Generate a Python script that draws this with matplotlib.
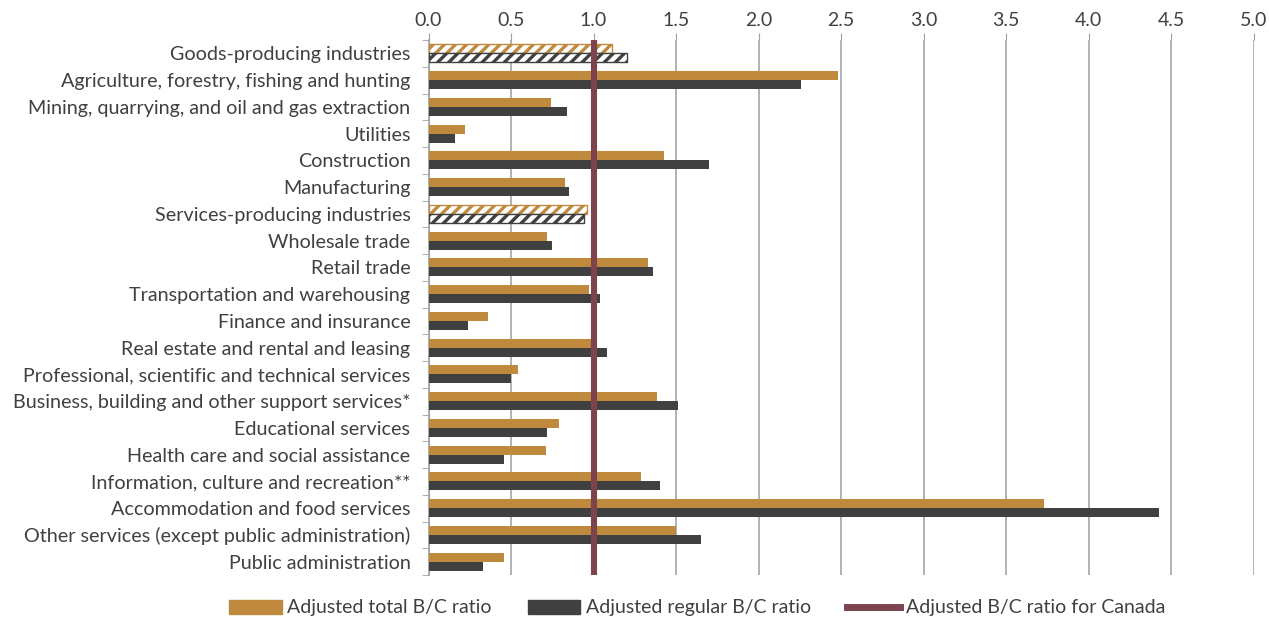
import matplotlib
matplotlib.use("Agg")
import matplotlib.pyplot as plt
import numpy as np
from matplotlib.patches import Patch
from matplotlib.lines import Line2D

categories = [
    "Goods-producing industries",
    "Agriculture, forestry, fishing and hunting",
    "Mining, quarrying, and oil and gas extraction",
    "Utilities",
    "Construction",
    "Manufacturing",
    "Services-producing industries",
    "Wholesale trade",
    "Retail trade",
    "Transportation and warehousing",
    "Finance and insurance",
    "Real estate and rental and leasing",
    "Professional, scientific and technical services",
    "Business, building and other support services*",
    "Educational services",
    "Health care and social assistance",
    "Information, culture and recreation**",
    "Accommodation and food services",
    "Other services (except public administration)",
    "Public administration",
]
total_bc = [1.11, 2.48, 0.74, 0.22, 1.43, 0.83, 0.96, 0.72, 1.33, 0.97, 0.36, 0.99,
            0.54, 1.385, 0.79, 0.71, 1.29, 3.73, 1.50, 0.46]
regular_bc = [1.20, 2.26, 0.84, 0.16, 1.70, 0.85, 0.94, 0.75, 1.36, 1.04, 0.24, 1.08,
              0.50, 1.51, 0.72, 0.46, 1.40, 4.43, 1.65, 0.33]
hatched = {"Goods-producing industries", "Services-producing industries"}
canada_ratio = 1.0
xticks = [0.0, 0.5, 1.0, 1.5, 2.0, 2.5, 3.0, 3.5, 4.0, 4.5, 5.0]

gold = "#C08A3E"
dark = "#404040"
maroon = "#7D4450"

plt.rcParams['font.family'] = ['Lato', 'DejaVu Sans']
plt.rcParams['hatch.linewidth'] = 2.4

fig = plt.figure(figsize=(12.69, 6.19), dpi=100)
ax = fig.add_axes([428.5 / 1269, 1 - 575 / 619, 825 / 1269, (575 - 40) / 619])

y = np.arange(len(categories))
h = 0.34
for i, cat in enumerate(categories):
    if cat in hatched:
        ax.barh(y[i] - h / 2, total_bc[i], height=h, facecolor="white",
                edgecolor=gold, hatch="///", linewidth=1, zorder=3)
        ax.barh(y[i] + h / 2, regular_bc[i], height=h, facecolor="white",
                edgecolor=dark, hatch="///", linewidth=1, zorder=3)
    else:
        ax.barh(y[i] - h / 2, total_bc[i], height=h, color=gold, zorder=3)
        ax.barh(y[i] + h / 2, regular_bc[i], height=h, color=dark, zorder=3)

ax.axvline(canada_ratio, color=maroon, linewidth=4.4, zorder=4)

ax.set_xlim(0, 5)
ax.set_ylim(len(categories) - 0.5, -0.5)
ax.set_xticks(xticks)
ax.set_xticklabels([f"{v:.1f}" for v in xticks], fontsize=14, color="#404040")
ax.xaxis.tick_top()
ax.tick_params(axis="x", length=5, color="#A0A0A0", pad=3)
ax.grid(axis="x", color="#A6A6A6", linewidth=1.2, zorder=0)

ax.set_yticks(y)
ax.set_yticklabels(categories, fontsize=14.2, color="#404040")
ax.set_yticks(np.arange(-0.5, len(categories), 1), minor=True)
ax.tick_params(axis="y", which="major", length=0, pad=13)
ax.tick_params(axis="y", which="minor", length=5, color="#A0A0A0")

for s in ["top", "right", "bottom"]:
    ax.spines[s].set_visible(False)
ax.spines["left"].set_color("#A0A0A0")
ax.spines["left"].set_linewidth(1.2)

handles = [
    Patch(facecolor=gold, edgecolor=gold, label="Adjusted total B/C ratio"),
    Patch(facecolor=dark, edgecolor=dark, label="Adjusted regular B/C ratio"),
    Line2D([0], [0], color=maroon, linewidth=5, label="Adjusted B/C ratio for Canada"),
]
fig.legend(handles=handles, loc="center", bbox_to_anchor=(697 / 1269, 1 - 608 / 619), ncol=3,
           frameon=False, fontsize=14, handlelength=2.7, handleheight=0.7,
           columnspacing=1.85, handletextpad=0.3, labelcolor="#404040")

fig.savefig("out.png", dpi=100)
